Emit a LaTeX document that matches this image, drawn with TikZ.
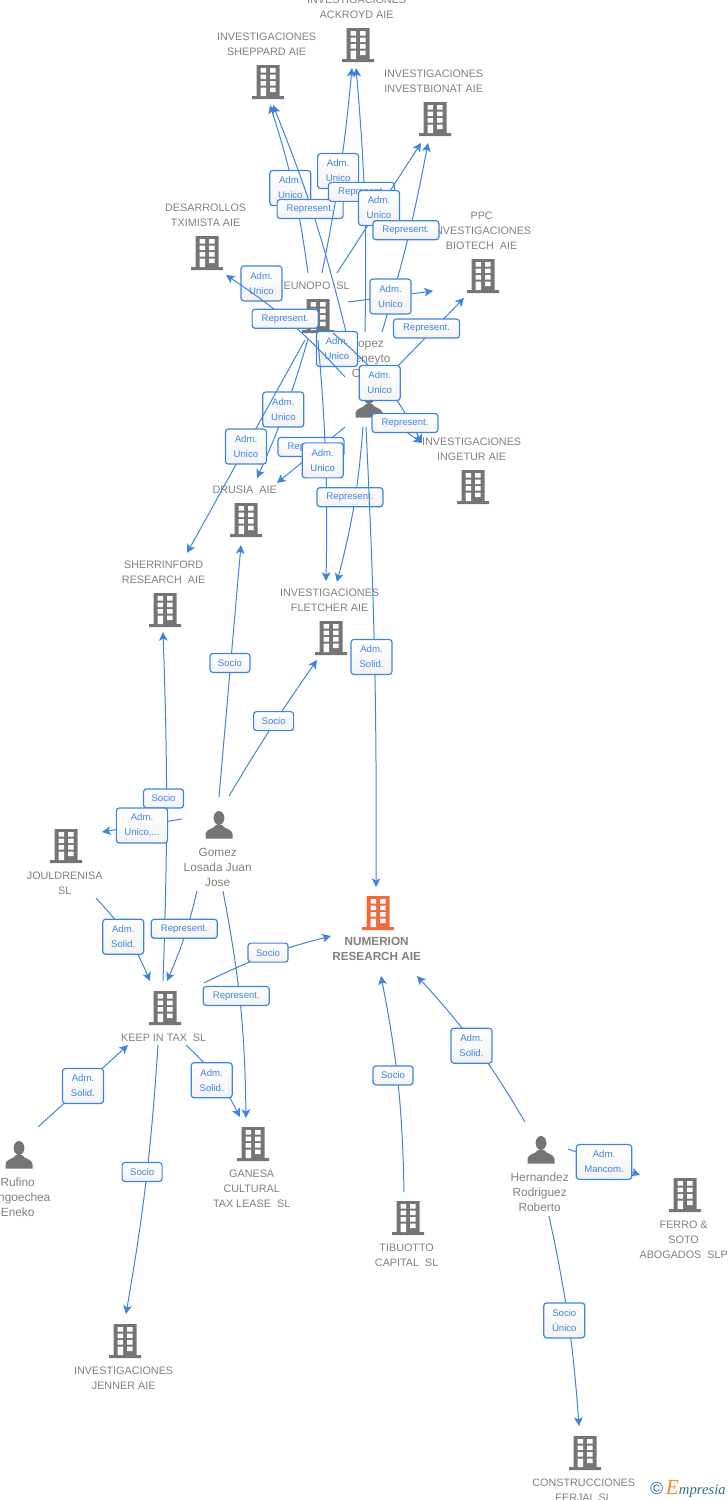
\documentclass[tikz,border=0pt]{standalone}
\usepackage{fontspec}
\setmainfont{Liberation Sans}
\newfontfamily\logofont{Liberation Serif}
\usetikzlibrary{arrows.meta, positioning}
\definecolor{linkblue}{HTML}{3F83E2}
\definecolor{iconblack}{HTML}{757575}
\definecolor{numorange}{HTML}{F4683A}
\definecolor{logoteal}{HTML}{2B6F8C}
\definecolor{logoorange}{HTML}{F08A24}
\tikzset{
  pics/building/.style={code={
    \fill[#1] (-11.5,-17) rectangle (11.5,15) (-16,14) rectangle (16,17);
    \foreach \wy in {-14,-7.5,-1} {
      \fill[white] (-7.5,\wy) rectangle (-2,\wy+4.5) (2,\wy) rectangle (7.5,\wy+4.5);
    }
    \fill[white] (-7.5,5.5) rectangle (-2,14) (2,5.5) rectangle (7.5,10);
  }},
  pics/building/.default=iconblack,
  pics/person/.style={code={
    \fill[iconblack] (0,-5) ellipse (5.4 and 7);
    \fill[iconblack] (-13.5,15.5) -- (-13.5,11) .. controls (-13.5,6) and (-5,6) .. (-3,2)
      -- (3,2) .. controls (5,6) and (13.5,6) .. (13.5,11) -- (13.5,15.5) -- cycle;
  }},
  iconbox/.style={minimum width=24pt, minimum height=37.5pt, inner sep=0pt},
  caption/.style={text=black!50, align=center, inner xsep=0pt, inner ysep=3pt,
    font=\fontsize{8.1pt}{11.25pt}\selectfont},
  peoplecap/.style={font=\fontsize{8.9pt}{11.25pt}\selectfont},
  tag/.style={
    draw=linkblue, line width=0.9pt, rounded corners=2.2pt,
    top color=white, bottom color=black!5, text=linkblue, align=center,
    font=\fontsize{7.2pt}{11.25pt}\selectfont,
    inner xsep=6pt, inner ysep=2pt, minimum height=14.25pt
  },
  tagtwo/.style={tag, minimum width=30.75pt, minimum height=26.25pt},
  tagone/.style={tag, minimum width=30pt, yshift=6pt},
  reptag/.style={tag, minimum width=49.5pt, yshift=6pt},
  link/.style={->, draw=linkblue, line width=0.75pt}
}
\newcommand{\entity}[6][]{
  \node[iconbox] (#2) at (#4) {};
  \pic at (#2) {#3};
  \node[caption, #1, #5=-2.5pt of #2, xshift=-1pt] (#2cap) {#6};
}
\begin{document}
\begin{tikzpicture}[x=0.75pt, y=-0.75pt, >={Stealth[length=6.5pt,width=6.5pt,inset=1.6pt]}]
  \useasboundingbox (0,0) rectangle (728,1500);

  \entity{ackroyd}{building}{358,45}{above}{INVESTIGACIONES\\ACKROYD AIE}
  \entity{sheppard}{building}{268,82}{above}{INVESTIGACIONES\\SHEPPARD AIE}
  \entity{investbionat}{building}{435,119}{above}{INVESTIGACIONES\\INVESTBIONAT AIE}
  \entity{desarrollos}{building}{207,253}{above}{DESARROLLOS\\TXIMISTA AIE}
  \entity{ppc}{building}{483,276}{above}{PPC\\INVESTIGACIONES\\BIOTECH\ \ AIE}
  \entity{eunopo}{building}{318,316}{above}{EUNOPO\ \ SL}
  \entity[peoplecap,yshift=-1.5pt]{lopez}{person}{369,402}{above}{\phantom{L}opez\\\phantom{M}eneyto\\O\phantom{scar}}
  \entity{ingetur}{building}{473,487}{above}{INVESTIGACIONES\\INGETUR AIE}
  \entity{drusia}{building}{246,520}{above}{DRUSIA\ \ AIE}
  \entity{sherrinford}{building}{165,610}{above}{SHERRINFORD\\RESEARCH\ \ AIE}
  \entity{fletcher}{building}{331,638}{above}{INVESTIGACIONES\\FLETCHER AIE}
  \entity[peoplecap,yshift=1pt]{gomez}{person}{219,823}{below}{Gomez\\Losada Juan\\Jose}
  \entity{jouldrenisa}{building}{66,846}{below}{JOULDRENISA\\SL}
  \entity{keep}{building}{165,1008}{below}{KEEP IN TAX\ \ SL}
  \entity[font=\bfseries\fontsize{8.8pt}{11.25pt}\selectfont, yshift=1.5pt]{numerion}{building=numorange}{378,913}{below}{NUMERION\\RESEARCH AIE}
  \entity{ganesa}{building}{253,1144}{below}{GANESA\\CULTURAL\\TAX LEASE\ \ SL}
  \entity[peoplecap,yshift=1pt]{rufino}{person}{19,1153}{below}{Rufino\\\phantom{Lo}ngoechea\\Eneko}
  \entity{jenner}{building}{125,1341}{below}{INVESTIGACIONES\\JENNER AIE}
  \entity{tibuotto}{building}{408,1218}{below}{TIBUOTTO\\CAPITAL\ \ SL}
  \entity[peoplecap,yshift=1pt]{hernandez}{person}{541,1148}{below}{Hernandez\\Rodriguez\\Roberto}
  \entity{ferro}{building}{685,1195}{below}{FERRO \&\\SOTO\\ABOGADOS\ \ SLP}
  \entity{construcciones}{building}{585,1453}{below}{CONSTRUCCIONES\\FERJAL SL}

  % links stop short of the icons, so each end is an offset from its node
  \path ([shift={(4,24)}]eunopo.center) to node[tagtwo] {Adm.\\Unico} ([shift={(-17,-44)}]lopez.center);
  \draw[link] ([shift={(-10,-43)}]eunopo.center) to[bend right=5] node[tagtwo, xshift=-2.25pt] {Adm.\\Unico} ([shift={(2,23)}]sheppard.center);
  \draw[link] ([shift={(-23,-70)}]lopez.center) to[bend right=4] node[reptag, xshift=-3pt] {Represent.} ([shift={(5,23)}]sheppard.center);
  \draw[link] ([shift={(4,-43)}]eunopo.center) to[bend right=3] node[tagtwo, xshift=-1.5pt] {Adm.\\Unico} ([shift={(-6,23)}]ackroyd.center);
  \draw[link] ([shift={(-4,-70)}]lopez.center) to[bend right=3] node[reptag, xshift=-2.25pt] {Represent.} ([shift={(-2,23)}]ackroyd.center);
  \draw[link] ([shift={(19,-43)}]eunopo.center) to node[tagtwo] {Adm.\\Unico} ([shift={(-14,24)}]investbionat.center);
  \draw[link] ([shift={(13,-70)}]lopez.center) to[bend right=3] node[reptag, xshift=-1.5pt] {Represent.} ([shift={(-7,24)}]investbionat.center);
  \draw[link] ([shift={(-35,-24)}]eunopo.center) to node[tagtwo] {Adm.\\Unico} ([shift={(33,22)}]desarrollos.center);
  \draw[link] ([shift={(-24,-25)}]lopez.center) to[bend right=7] node[reptag, xshift=-3pt, yshift=-3.75pt] {Represent.} ([shift={(19,22)}]desarrollos.center);
  \draw[link] ([shift={(30,-14)}]eunopo.center) to node[tagtwo] {Adm.\\Unico} ([shift={(-50,15)}]ppc.center);
  \draw[link] ([shift={(28,-35)}]lopez.center) to node[reptag, xshift=-3pt, yshift=-3pt] {Represent.} ([shift={(-19,22)}]ppc.center);
  \draw[link] ([shift={(15,17)}]eunopo.center) to[bend left=11] node[tagtwo, xshift=-3pt] {Adm.\\Unico} ([shift={(-51,-44)}]ingetur.center);
  \draw[link] ([shift={(19,17)}]lopez.center) to node[reptag] {Represent.} ([shift={(-51,-44)}]ingetur.center);
  \draw[link] ([shift={(-10,23)}]eunopo.center) to[bend left=4] node[tagtwo, xshift=-1.5pt] {Adm.\\Unico} ([shift={(11,-42)}]drusia.center);
  \draw[link] ([shift={(-24,25)}]lopez.center) to node[reptag] {Represent.} ([shift={(31,-37)}]drusia.center);
  \draw[link] ([shift={(0,24)}]eunopo.center) to[bend left=3] node[tagtwo, xshift=-2.25pt] {Adm.\\Unico} ([shift={(-5,-57)}]fletcher.center);
  \draw[link] ([shift={(-6,25)}]lopez.center) to[bend left=5] node[reptag, xshift=-3pt] {Represent.} ([shift={(6,-56)}]fletcher.center);
  \draw[link] ([shift={(-13,24)}]eunopo.center) to node[tagtwo] {Adm.\\Unico} ([shift={(22,-57)}]sherrinford.center);
  \draw[link] ([shift={(-3,25)}]lopez.center) to[bend left=1.5] node[tagtwo, xshift=-2.25pt] {Adm.\\Solid.} ([shift={(-2,-26)}]numerion.center);

  \draw[link] ([shift={(0,-26)}]gomez.center) to node[tagone] {Socio} ([shift={(-5,25)}]drusia.center);
  \draw[link] ([shift={(10,-27)}]gomez.center) to[bend left=2] node[tagone, xshift=1.5pt, yshift=-1.5pt] {Socio} ([shift={(-14,22)}]fletcher.center);
  \draw[link] ([shift={(-2,-27)}]keep.center) to[bend right=2] node[tagone, xshift=-2.25pt] {Socio} ([shift={(-2,22)}]sherrinford.center);
  \draw[link] ([shift={(-37,-4)}]gomez.center) to node[tagtwo] {Adm.\\Unico,...} ([shift={(36,-14)}]jouldrenisa.center);
  \draw[link] ([shift={(-22,68)}]gomez.center) to[bend left=5] node[reptag] {Represent.} ([shift={(2,-27)}]keep.center);
  \draw[link] ([shift={(4,68)}]gomez.center) to[bend left=5] node[reptag, xshift=-3pt] {Represent.} ([shift={(-7,-26)}]ganesa.center);
  \draw[link] ([shift={(30,52)}]jouldrenisa.center) to[bend left=10] node[tagtwo, xshift=-3pt] {Adm.\\Solid.} ([shift={(-15,-27)}]keep.center);
  \draw[link] ([shift={(39,-25)}]keep.center) to[bend left=6] node[tagone, xshift=1.5pt, yshift=-3.75pt] {Socio} ([shift={(-47,23)}]numerion.center);
  \draw[link] ([shift={(21,37)}]keep.center) to[bend left=10] node[tagtwo, xshift=-3.75pt, yshift=-1.5pt] {Adm.\\Solid.} ([shift={(-13,-27)}]ganesa.center);
  \draw[link] ([shift={(19,-26)}]rufino.center) to node[tagtwo] {Adm.\\Solid.} ([shift={(-37,37)}]keep.center);
  \draw[link] ([shift={(-7,37)}]keep.center) to[bend left=3] node[tagone, xshift=-3pt] {Socio} ([shift={(1,-27)}]jenner.center);
  \draw[link] ([shift={(-4,-26)}]tibuotto.center) to[bend right=5] node[tagone, xshift=-3.75pt] {Socio} ([shift={(3,63)}]numerion.center);
  \draw[link] ([shift={(-16,-26)}]hernandez.center) to[bend right=6] node[tagtwo, xshift=-3pt] {Adm.\\Solid.} ([shift={(39,63)}]numerion.center);
  \draw[link] ([shift={(27,1)}]hernandez.center) to node[tagtwo] {Adm.\\Mancom.} ([shift={(-45,-20)}]ferro.center);
  \draw[link] ([shift={(8,68)}]hernandez.center) to[bend left=4] node[tagtwo, xshift=-3pt] {Socio\\Único} ([shift={(-6,-27)}]construcciones.center);

  \node (logo) at (688,1489) {\fontsize{13pt}{13pt}\selectfont\color{logoteal}©\,{\logofont\itshape\fontsize{11pt}{11pt}\selectfont{\color{logoorange}\fontsize{16pt}{16pt}\selectfont E}mpresia}};
\end{tikzpicture}
\end{document}
